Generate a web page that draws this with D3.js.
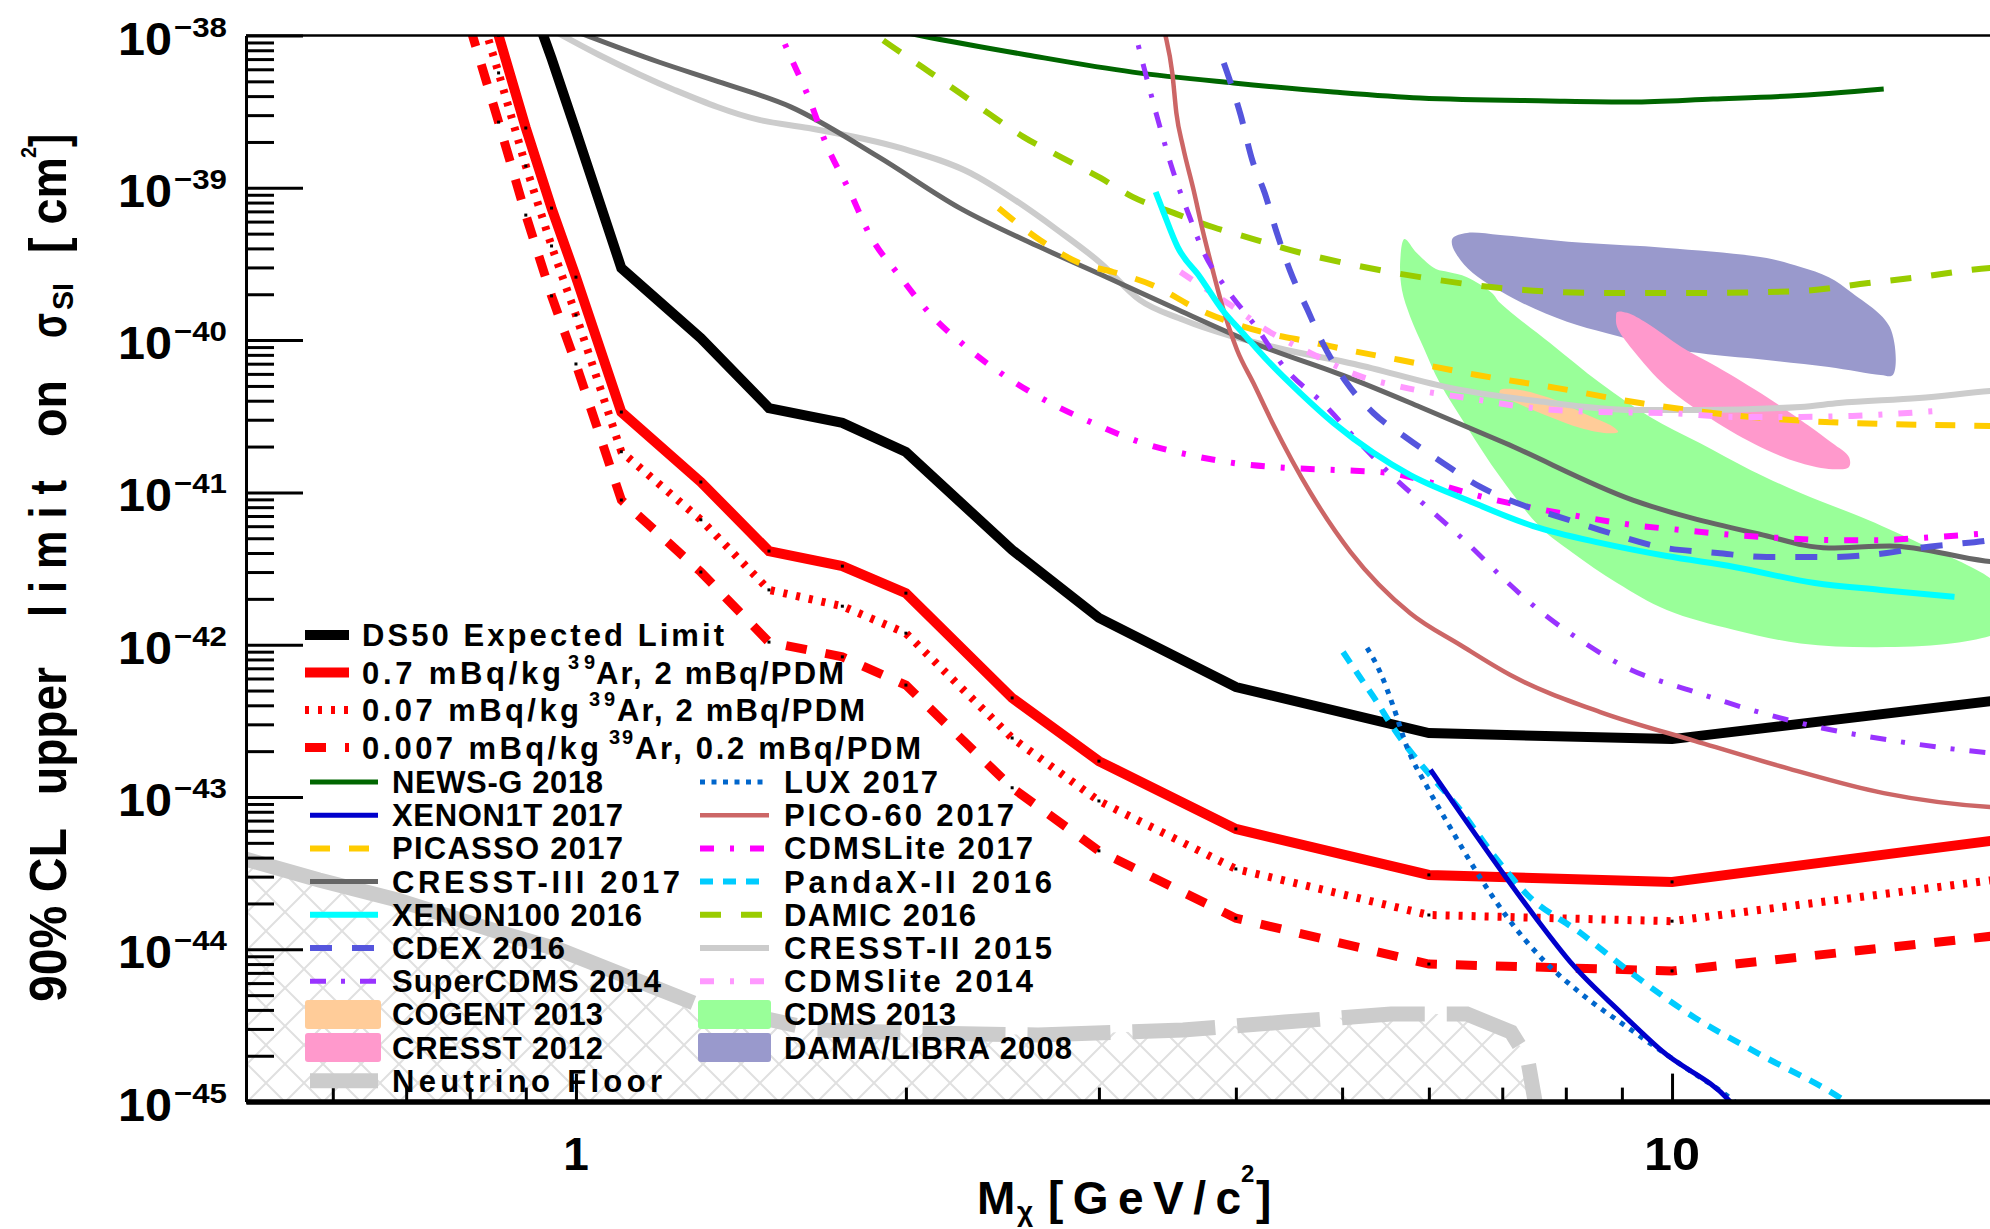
<!DOCTYPE html>
<html>
<head>
  <meta charset="utf-8">
  <script src="https://d3js.org/d3.v7.min.js"></script>
  <style>
    body { margin: 0; background: #fff; }
    svg text { font-family: "Liberation Sans", Arial, Helvetica, sans-serif; font-weight: bold; fill: #000; }
  </style>
</head>
<body>
<svg id="chart" width="1990" height="1229"></svg>
<script>
"use strict";

/* ---- data: mass in GeV/c^2, cross section in cm^2 ---- */

// DS50 projections share one mass grid
var massGrid = [0.8, 0.85, 0.9, 0.95, 1.0, 1.1, 1.3, 1.5, 1.75, 2.0, 2.5, 3, 4, 6, 10, 20];
var ds50Expected = [2.0e-37, 7.1e-38, 2.09e-38, 7.08e-39, 2.36e-39, 2.97e-40, 1.03e-40, 3.58e-41, 2.86e-41, 1.84e-41, 4.19e-42, 1.50e-42, 5.27e-43, 2.63e-43, 2.40e-43, 4.34e-43];
var ar07  = [5.4e-38, 1.0e-38, 2.47e-39, 7.36e-40, 2.59e-40, 3.37e-41, 1.17e-41, 4.12e-42, 3.28e-42, 2.18e-42, 4.47e-43, 1.72e-43, 6.17e-44, 3.08e-44, 2.77e-44, 5.26e-44];
var ar007 = [2.4e-38, 5.68e-39, 1.39e-39, 4.15e-40, 1.46e-40, 1.85e-41, 6.61e-42, 2.29e-42, 1.79e-42, 1.19e-42, 2.44e-43, 9.42e-44, 3.37e-44, 1.68e-44, 1.53e-44, 2.90e-44];
var ar0007 = [1.15e-38, 2.70e-39, 6.62e-40, 1.95e-40, 6.97e-41, 8.91e-42, 3.00e-42, 1.04e-42, 8.32e-43, 5.43e-43, 1.15e-43, 4.43e-44, 1.60e-44, 8.0e-45, 7.21e-45, 1.24e-44];

// other experiments [mass, sigma]
var newsG2018 = [[1.93,1.1e-38],[2.06,1.0e-38],[2.58,7.45e-39],[3.22,5.75e-39],[3.98,4.88e-39],[4.91,4.26e-39],[5.89,3.89e-39],[7.72,3.72e-39],[9.18,3.66e-39],[10.9,3.83e-39],[12.8,4.01e-39],[15.6,4.46e-39]];
var xenon1t2017 = [[6.02,1.51e-43],[6.41,7.87e-44],[7.04,3.03e-44],[7.50,1.63e-44],[8.12,7.89e-45],[8.97,3.87e-45],[9.79,2.15e-45],[11.3,1.0e-45],[11.6,8.0e-46]];
var picasso2017 = [[2.43,7.36e-40],[2.65,4.54e-40],[2.88,3.21e-40],[3.09,2.80e-40],[3.39,2.23e-40],[3.66,1.65e-40],[3.98,1.29e-40],[4.27,1.11e-40],[4.68,9.73e-41],[5.12,8.47e-41],[5.65,7.40e-41],[6.64,5.90e-41],[7.86,4.84e-41],[9.35,3.86e-41],[11.1,3.27e-41],[13.3,2.94e-41],[15.8,2.81e-41],[19.5,2.73e-41],[20,2.72e-41]];
var cresst3_2017 = [[0.93,1.3e-38],[1.19,6.70e-39],[1.36,4.88e-39],[1.57,3.40e-39],[1.89,1.59e-39],[2.24,7.36e-40],[2.65,4.08e-40],[3.05,2.59e-40],[3.51,1.63e-40],[4.15,9.57e-41],[5.05,5.73e-41],[5.89,3.64e-41],[7.04,2.11e-41],[9.21,8.91e-42],[12.0,5.33e-42],[13.9,4.32e-42],[15.8,4.45e-42],[19.3,3.55e-42],[20,3.45e-42]];
var xenon100_2016 = [[3.38,9.38e-40],[3.43,7.14e-40],[3.54,4.08e-40],[3.71,2.59e-40],[3.89,1.57e-40],[4.06,1.11e-40],[4.27,7.40e-41],[4.58,4.49e-41],[4.91,2.86e-41],[5.34,1.82e-41],[5.77,1.30e-41],[6.50,8.91e-42],[7.47,6.01e-42],[8.60,4.66e-42],[9.89,3.82e-42],[11.4,3.24e-42],[13.5,2.54e-42],[15.5,2.29e-42],[18.1,2.06e-42]];
var cdex2016 = [[3.90,6.59e-39],[4.04,3.01e-39],[4.14,1.52e-39],[4.25,9.25e-40],[4.36,5.05e-40],[4.48,2.88e-40],[4.65,1.58e-40],[4.80,9.57e-41],[5.05,5.22e-41],[5.34,3.32e-41],[5.71,2.31e-41],[6.18,1.56e-41],[6.68,1.09e-41],[7.22,8.51e-42],[7.90,6.89e-42],[8.60,5.66e-42],[9.75,4.38e-42],[11.0,4.0e-42],[12.2,3.77e-42],[14.0,3.77e-42],[15.7,4.0e-42],[16.8,4.32e-42],[19.5,4.86e-42],[20,5.0e-42]];
var superCdms2014 = [[3.20,1.35e-38],[3.24,1.0e-38],[3.32,5.11e-39],[3.41,2.51e-39],[3.51,1.25e-39],[3.63,6.43e-40],[3.73,3.91e-40],[3.93,2.13e-40],[4.15,1.29e-40],[4.45,6.35e-41],[4.80,3.86e-41],[5.19,2.11e-41],[5.57,1.26e-41],[6.02,7.67e-42],[6.50,4.66e-42],[7.01,2.74e-42],[7.58,1.66e-42],[8.25,1.07e-42],[9.06,7.14e-43],[10.5,4.89e-43],[12.0,3.61e-43],[13.7,2.84e-43],[16.0,2.33e-43],[19.5,1.95e-43],[20,1.92e-43]];
var lux2017 = [[5.27,9.53e-43],[5.42,6.52e-43],[5.57,3.90e-43],[5.73,2.13e-43],[5.98,1.16e-43],[6.27,6.37e-44],[6.64,3.18e-44],[7.07,1.63e-44],[7.63,8.51e-45],[8.25,5.16e-45],[9.18,2.95e-45],[10.2,1.74e-45],[11.4,1.0e-45],[11.7,8.5e-46]];
var pico60_2017 = [[3.42,1.28e-38],[3.45,1.0e-38],[3.50,5.68e-39],[3.53,3.10e-39],[3.58,1.85e-39],[3.66,9.68e-40],[3.73,5.28e-40],[3.81,2.88e-40],[3.89,1.65e-40],[4.01,8.61e-41],[4.15,5.22e-41],[4.32,2.86e-41],[4.68,9.91e-42],[5.09,4.06e-42],[5.77,1.61e-42],[6.41,9.95e-43],[7.12,6.32e-43],[8.60,3.61e-43],[10.5,2.33e-43],[12.8,1.53e-43],[15.6,1.06e-43],[19.5,8.59e-44],[20,8.5e-44]];
var cdmsLite2017 = [[1.52,1.35e-38],[1.54,1.0e-38],[1.57,7.23e-39],[1.63,3.94e-39],[1.69,1.97e-39],[1.78,9.25e-40],[1.85,5.05e-40],[1.98,2.56e-40],[2.10,1.51e-40],[2.27,9.02e-41],[2.47,5.73e-41],[2.71,3.86e-41],[2.96,2.86e-41],[3.27,2.14e-41],[3.63,1.76e-41],[3.98,1.56e-41],[4.45,1.45e-41],[4.98,1.40e-41],[5.53,1.34e-41],[6.05,1.15e-41],[6.72,9.33e-42],[7.47,7.91e-42],[8.29,6.90e-42],[9.21,6.11e-42],[10.2,5.66e-42],[11.4,5.25e-42],[12.6,5.02e-42],[14.0,4.86e-42],[15.6,4.86e-42],[16.8,5.02e-42],[19.5,5.41e-42],[20,5.5e-42]];
var pandax2016 = [[5.01,8.95e-43],[5.19,6.14e-43],[5.38,4.21e-43],[5.53,3.06e-43],[5.73,2.13e-43],[5.93,1.57e-43],[6.41,8.22e-44],[6.87,4.17e-44],[7.38,2.28e-44],[8.25,1.28e-44],[9.18,7.0e-45],[10.5,3.54e-45],[12.0,2.06e-45],[14.4,1.0e-45],[14.8,8.7e-46]];
var damic2016 = [[1.78,1.35e-38],[1.88,1.0e-38],[2.07,6.21e-39],[2.24,4.19e-39],[2.39,3.01e-39],[2.56,2.16e-39],[2.77,1.59e-39],[3.01,1.16e-39],[3.22,8.71e-40],[3.51,6.84e-40],[3.81,5.53e-40],[4.15,4.61e-40],[4.48,3.91e-40],[5.13,3.11e-40],[5.89,2.59e-40],[6.97,2.20e-40],[8.6,2.04e-40],[10.6,2.04e-40],[13.1,2.10e-40],[15.1,2.37e-40],[16.8,2.59e-40],[19.5,2.97e-40],[20,3.0e-40]];
var cresst2_2015 = [[0.91,1.3e-38],[1.05,7.45e-39],[1.23,4.39e-39],[1.47,2.79e-39],[1.63,2.47e-39],[1.98,1.82e-39],[2.29,1.25e-39],[2.49,8.71e-40],[2.75,5.28e-40],[3.01,3.21e-40],[3.27,1.83e-40],[3.58,1.36e-40],[4.37,8.87e-41],[5.13,6.97e-41],[6.34,4.78e-41],[7.53,3.98e-41],[9.21,3.48e-41],[10.6,3.48e-41],[13.1,3.64e-41],[14.2,3.86e-41],[16.8,4.17e-41],[19.5,4.63e-41],[20,4.7e-41]];
var cdmsLite2014 = [[3.56,2.80e-40],[3.77,2.13e-40],[3.98,1.65e-40],[4.27,1.16e-40],[4.68,8.22e-41],[5.13,5.98e-41],[5.73,4.84e-41],[6.50,4.17e-41],[7.47,3.58e-41],[8.60,3.37e-41],[9.89,3.32e-41],[11.4,3.13e-41],[13.1,3.13e-41],[14.6,3.18e-41],[17.4,3.42e-41]];

// signal regions (closed contours)
var cogent2013 = [[6.97,4.70e-41],[7.27,4.70e-41],[7.74,4.16e-41],[8.29,3.32e-41],[8.84,2.69e-41],[8.93,2.49e-41],[8.72,2.45e-41],[8.25,2.65e-41],[7.74,3.13e-41],[7.22,3.86e-41],[6.97,4.36e-41]];
var cresst2012 = [[8.91,1.53e-40],[9.10,1.51e-40],[9.49,1.29e-40],[10.2,9.02e-41],[11.0,6.65e-41],[12.2,4.23e-41],[13.1,2.99e-41],[14.0,2.11e-41],[14.5,1.71e-41],[14.5,1.47e-41],[14.0,1.42e-41],[13.1,1.56e-41],[12.2,1.90e-41],[11.0,2.86e-41],[9.89,4.92e-41],[9.21,8.61e-41],[8.91,1.22e-40],[8.89,1.42e-40]];
var cdms2013 = [[5.70,4.61e-40],[5.85,3.73e-40],[6.09,2.93e-40],[6.25,2.80e-40],[6.50,2.59e-40],[6.85,2.04e-40],[6.97,1.75e-40],[7.74,9.57e-41],[8.60,5.22e-41],[9.55,3.13e-41],[10.6,2.11e-41],[11.8,1.40e-41],[13.1,9.91e-42],[15.1,6.59e-42],[16.8,4.66e-42],[19.5,2.74e-42],[20.1,2.12e-42],[20.1,1.25e-42],[19.5,1.14e-42],[17.8,1.01e-42],[15.2,9.64e-43],[13.1,1.02e-42],[11.4,1.25e-42],[9.89,1.69e-42],[8.91,2.54e-42],[8.12,4.0e-42],[7.58,5.93e-42],[6.97,1.26e-41],[6.50,2.69e-41],[6.14,5.22e-41],[5.93,9.02e-41],[5.77,1.42e-40],[5.67,2.13e-40],[5.65,3.36e-40]];
var damaLibra2008 = [[6.31,4.68e-40],[6.50,5.05e-40],[6.97,4.90e-40],[8.29,4.35e-40],[9.89,4.03e-40],[12.2,3.46e-40],[13.1,3.02e-40],[13.9,2.59e-40],[14.6,2.04e-40],[15.8,1.22e-40],[15.9,5.90e-41],[15.5,5.90e-41],[13.9,6.65e-41],[12.2,7.40e-41],[10.4,8.36e-41],[9.61,9.29e-41],[8.72,1.11e-40],[8.02,1.32e-40],[7.27,1.78e-40],[6.58,2.76e-40],[6.38,3.52e-40],[6.30,4.21e-40]];

// neutrino floor (solid low-mass part, dashed above)
var nuFloorSolid = [[0.5,3.9e-44],[0.583,2.85e-44],[0.687,2.11e-44],[0.844,1.32e-44],[0.967,9.9e-45],[1.28,4.45e-45]];
var nuFloorDashed = [[1.28,4.45e-45],[1.66,2.95e-45],[2.07,2.82e-45],[2.64,2.74e-45],[3.58,2.95e-45],[4.43,3.33e-45],[5.54,3.76e-45],[6.50,3.76e-45],[7.13,2.86e-45],[7.38,1.93e-45],[7.50,1.0e-45],[7.52,8.0e-46]];

// axis tick labels
var yLabelExps = [-38, -39, -40, -41, -42, -43, -44, -45];
var xLabelVals = [1, 10];

// legend texts
var legendTop = [
  ["ds50", ["DS50 Expected Limit"]],
  ["ar07", ["0.7 mBq/kg", "39", "Ar, 2 mBq/PDM"]],
  ["ar007", ["0.07 mBq/kg", "39", "Ar, 2 mBq/PDM"]],
  ["ar0007", ["0.007 mBq/kg", "39", "Ar, 0.2 mBq/PDM"]]
];
var legendLeft = [["newsg","NEWS-G 2018"],["xenon1t","XENON1T 2017"],["picasso","PICASSO 2017"],["cresst3","CRESST-III 2017"],["xenon100","XENON100 2016"],["cdex","CDEX 2016"],["supercdms","SuperCDMS 2014"],["cogent","COGENT 2013"],["cresst12","CRESST 2012"],["floor","Neutrino Floor"]];
var legendRight = [["lux","LUX 2017"],["pico","PICO-60 2017"],["cdmslite17","CDMSLite 2017"],["pandax","PandaX-II 2016"],["damic","DAMIC 2016"],["cresst2","CRESST-II 2015"],["cdmslite14","CDMSlite 2014"],["cdms13","CDMS 2013"],["dama","DAMA/LIBRA 2008"]];

/* ---- styles ---- */
var st = {
  ds50:      {color: "#000000", width: 10},
  ar07:      {color: "#ff0000", width: 10},
  ar007:     {color: "#ff0000", width: 8, dash: "4,9"},
  ar0007:    {color: "#ff0000", width: 9, dash: "21,19"},
  newsg:     {color: "#006600", width: 5},
  xenon1t:   {color: "#0000cc", width: 5},
  picasso:   {color: "#ffcc00", width: 6, dash: "20,19"},
  cresst3:   {color: "#666666", width: 5},
  xenon100:  {color: "#00ffff", width: 6},
  cdex:      {color: "#5555dd", width: 6, dash: "22,20"},
  supercdms: {color: "#9933ff", width: 5, dash: "16,15,4,15"},
  lux:       {color: "#0066cc", width: 5, dash: "5,6.5"},
  pico:      {color: "#cc6666", width: 4.5},
  cdmslite17:{color: "#ff00ff", width: 6, dash: "14,16,4,16"},
  pandax:    {color: "#00ccff", width: 6, dash: "13,10"},
  damic:     {color: "#99cc00", width: 6, dash: "21,20"},
  cresst2:   {color: "#cccccc", width: 6},
  cdmslite14:{color: "#ff99ff", width: 6, dash: "14,16,4,16"},
  cogent:    {fill: "#ffcc99"},
  cresst12:  {fill: "#ff99cc"},
  cdms13:    {fill: "#99ff99"},
  dama:      {fill: "#9999cc"},
  floor:     {color: "#cccccc", width: 15}
};

/* ---- layout ---- */
var svg = d3.select("#chart");
var x = d3.scaleLog().domain([0.5, 20]).range([246, 2002]);
var y = d3.scaleLog().domain([1e-45, 1e-38]).range([1101.6, 35.5]);

var defs = svg.append("defs");
defs.append("clipPath").attr("id", "plotClip")
  .append("rect").attr("x", 246).attr("y", 35.5).attr("width", 1756).attr("height", 1066.1);
var pat = defs.append("pattern").attr("id", "xhatch")
  .attr("patternUnits", "userSpaceOnUse").attr("width", 38).attr("height", 38)
  .attr("patternTransform", "translate(0,19)");
pat.append("path").attr("d", "M0,0L38,38M38,0L0,38M-1,37L1,39M37,-1L39,1")
  .attr("stroke", "#e0e0e0").attr("stroke-width", 2).attr("fill", "none");

var plot = svg.append("g").attr("clip-path", "url(#plotClip)");

function lineGen(curve) {
  return d3.line().x(function(d) { return x(d[0]); }).y(function(d) { return y(d[1]); }).curve(curve);
}
function drawLine(data, s, curve) {
  plot.append("path").datum(data)
    .attr("d", lineGen(curve || d3.curveMonotoneX))
    .attr("fill", "none")
    .attr("stroke", s.color)
    .attr("stroke-width", s.width)
    .attr("stroke-dasharray", s.dash || null);
}
function drawRegion(data, s) {
  plot.append("path").datum(data)
    .attr("d", lineGen(d3.curveCatmullRomClosed))
    .attr("fill", s.fill).attr("stroke", "none");
}

// hatched area under the neutrino floor
var floorAll = nuFloorSolid.concat(nuFloorDashed.slice(1));
plot.append("path").datum(floorAll)
  .attr("d", d3.area().x(function(d) { return x(d[0]); })
    .y0(y(1e-45) + 5).y1(function(d) { return y(d[1]); }))
  .attr("fill", "url(#xhatch)");
drawLine(nuFloorSolid, st.floor, d3.curveLinear);
plot.append("path").datum(nuFloorDashed)
  .attr("d", lineGen(d3.curveLinear))
  .attr("fill", "none").attr("stroke", st.floor.color).attr("stroke-width", st.floor.width)
  .attr("stroke-dasharray", "83,22").attr("stroke-dashoffset", 83);

// regions
drawRegion(damaLibra2008, st.dama);
drawRegion(cdms2013, st.cdms13);
drawRegion(cresst2012, st.cresst12);
drawRegion(cogent2013, st.cogent);

// DS50 projections
[[ds50Expected, st.ds50], [ar07, st.ar07], [ar007, st.ar007], [ar0007, st.ar0007]].forEach(function(p) {
  var pts = massGrid.map(function(m, i) { return [m, p[0][i]]; });
  drawLine(pts, p[1], d3.curveLinear);
  if (p[1].color === "#ff0000") {
    plot.selectAll(null).data(pts.filter(function(d) { return d[1] <= 1e-38 && d[0] < 20; }))
      .enter().append("rect")
      .attr("x", function(d) { return x(d[0]) - 1.5; })
      .attr("y", function(d) { return y(d[1]) - 1.5; })
      .attr("width", 3).attr("height", 3).attr("fill", "#000");
  }
});

// experiments
drawLine(cresst2_2015, st.cresst2);
drawLine(cresst3_2017, st.cresst3);
drawLine(newsG2018, st.newsg);
drawLine(damic2016, st.damic);
drawLine(picasso2017, st.picasso);
drawLine(cdmsLite2014, st.cdmslite14);
drawLine(cdmsLite2017, st.cdmslite17);
drawLine(pico60_2017, st.pico);
drawLine(superCdms2014, st.supercdms);
drawLine(cdex2016, st.cdex);
drawLine(xenon100_2016, st.xenon100);
drawLine(pandax2016, st.pandax);
drawLine(lux2017, st.lux);
drawLine(xenon1t2017, st.xenon1t);

/* ---- axes ---- */
var yAll = y.ticks();
var yMajor = yAll.filter(function(v) { return Math.abs(Math.log10(v) - Math.round(Math.log10(v))) < 1e-6; });
var yMinor = yAll.filter(function(v) { return yMajor.indexOf(v) < 0; });
var xAll = x.ticks();
var xMajor = xAll.filter(function(v) { return v === 1 || v === 10; });
var xMinor = xAll.filter(function(v) { return v !== 1 && v !== 10; });

function styleAxis(g, w, domainW) {
  g.selectAll(".tick line").attr("stroke", "#000").attr("stroke-width", w);
  g.select(".domain").attr("stroke", "#000").attr("stroke-width", domainW);
  g.selectAll(".tick text").remove();
}
var gy = svg.append("g").attr("transform", "translate(246,0)")
  .call(d3.axisLeft(y).tickValues(yMinor).tickSize(-28).tickSizeOuter(0).tickFormat(""));
styleAxis(gy, 3, 3);
var gy2 = svg.append("g").attr("transform", "translate(246,0)")
  .call(d3.axisLeft(y).tickValues(yMajor).tickSize(-57).tickSizeOuter(0).tickFormat(""));
styleAxis(gy2, 3, 3);
var gx = svg.append("g").attr("transform", "translate(0,1101.6)")
  .call(d3.axisBottom(x).tickValues(xMinor).tickSize(-14).tickSizeOuter(0).tickFormat(""));
styleAxis(gx, 3, 5);
var gx2 = svg.append("g").attr("transform", "translate(0,1101.6)")
  .call(d3.axisBottom(x).tickValues(xMajor).tickSize(-28).tickSizeOuter(0).tickFormat(""));
styleAxis(gx2, 3, 5);
svg.append("line").attr("x1", 246).attr("x2", 2002).attr("y1", 35.5).attr("y2", 35.5)
  .attr("stroke", "#000").attr("stroke-width", 2.5);

// y tick labels 10^-n
yLabelExps.forEach(function(e) {
  var ty = y(Math.pow(10, e));
  svg.append("text").attr("x", 118).attr("y", ty + 19).attr("font-size", 46)
    .attr("textLength", 54).attr("lengthAdjust", "spacingAndGlyphs").text("10");
  svg.append("text").attr("x", 174).attr("y", ty + 1).attr("font-size", 28)
    .attr("textLength", 53).attr("lengthAdjust", "spacingAndGlyphs").text("\u2212" + (-e));
});
// x tick labels
xLabelVals.forEach(function(v) {
  svg.append("text").attr("x", x(v)).attr("y", 1170).attr("font-size", 46)
    .attr("text-anchor", "middle")
    .attr("textLength", v === 1 ? null : 56).attr("lengthAdjust", "spacingAndGlyphs")
    .text(String(v));
});

// x title
svg.append("text").attr("x", 977).attr("y", 1214).attr("font-size", 46).text("M");
svg.append("text").attr("x", 1017).attr("y", 1221).attr("font-size", 28).text("\u03c7");
svg.append("text").attr("x", 1048).attr("y", 1214).attr("font-size", 46)
  .attr("textLength", 193).attr("lengthAdjust", "spacing").text("[GeV/c");
svg.append("text").attr("x", 1241).attr("y", 1182).attr("font-size", 24).text("2");
svg.append("text").attr("x", 1256).attr("y", 1214).attr("font-size", 46).text("]");

// y title, rotated pieces: [text, start y, length, font size, baseline x]
var yTitleParts = [
  ["90% CL", 1002, 174, 52, 66],
  ["upper", 795, 128, 52, 66],
  ["l i m i t", 617, 137, 52, 66],
  ["on", 437, 57, 52, 66],
  ["\u03c3", 338, 25, 52, 66],
  ["SI", 310, 27, 30, 73],
  ["[ cm", 253, 96, 52, 66],
  ["2", 158, 11, 22, 36],
  ["]", 147, 13, 52, 66]
];
yTitleParts.forEach(function(p) {
  svg.append("text")
    .attr("transform", "translate(" + p[4] + "," + p[1] + ") rotate(-90)")
    .attr("font-size", p[3])
    .attr("textLength", p[2]).attr("lengthAdjust", "spacingAndGlyphs")
    .text(p[0]);
});

/* ---- legend ---- */
var leg = svg.append("g");
function legendSample(key, x0, x1, cy) {
  var s = st[key];
  if (s.fill) {
    leg.append("rect").attr("x", x0).attr("y", cy - 14.5).attr("width", x1 - x0).attr("height", 29)
      .attr("rx", 3).attr("fill", s.fill);
  } else {
    leg.append("line").attr("x1", x0).attr("x2", x1).attr("y1", cy).attr("y2", cy)
      .attr("stroke", s.color).attr("stroke-width", s.width)
      .attr("stroke-dasharray", s.dash || null);
  }
}
function legendText(str, x0, base, len, size) {
  leg.append("text").attr("x", x0).attr("y", base).attr("font-size", size)
    .attr("textLength", len).attr("lengthAdjust", "spacing").text(str);
}
// top block: sample 305-349, text at 362
var topRowY = [635, 672.5, 710, 747.5];
var topSeg = [
  [[362, 362]],
  [[362, 199], [568, 27], [596, 248]],
  [[362, 217], [589, 26], [617, 248]],
  [[362, 237], [609, 24], [635, 286]]
];
legendTop.forEach(function(r, i) {
  var cy = topRowY[i];
  legendSample(r[0], 305, 349, cy);
  r[1].forEach(function(s, j) {
    var g = topSeg[i][j];
    if (j === 1) legendText(s, g[0], cy - 4, g[1], 20);
    else legendText(s, g[0], cy + 11, g[1], 31);
  });
});
// two columns
var colRowY = function(i) { return 782 + i * 33.2; };
var leftLen = [211, 231, 231, 288, 250, 173, 269, 211, 211, 270];
var rightLen = [154, 230, 249, 268, 192, 268, 249, 172, 288];
legendLeft.forEach(function(r, i) {
  var cy = colRowY(i);
  if (st[r[0]].fill) legendSample(r[0], 305, 381, cy); else legendSample(r[0], 310, 378, cy);
  legendText(r[1], 392, cy + 11, leftLen[i], 31);
});
legendRight.forEach(function(r, i) {
  var cy = colRowY(i);
  if (st[r[0]].fill) legendSample(r[0], 698, 771, cy); else legendSample(r[0], 700, 769, cy);
  legendText(r[1], 784, cy + 11, rightLen[i], 31);
});
</script>
</body>
</html>
